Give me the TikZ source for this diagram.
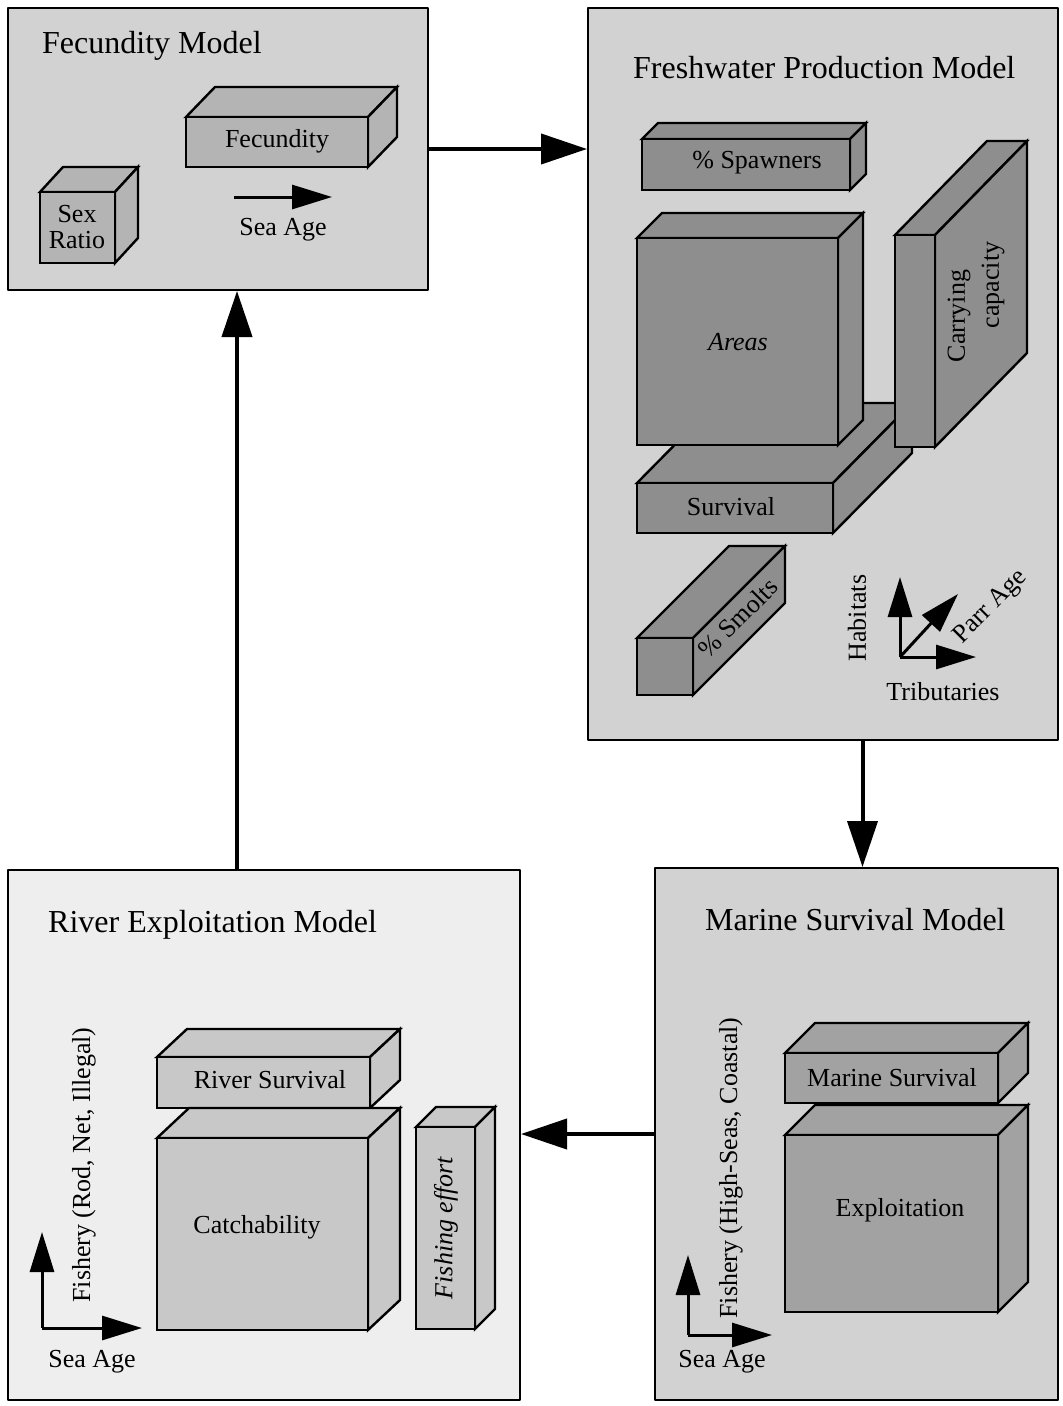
\documentclass[tikz,border=0pt]{standalone}
\usepackage{fontspec}
\setmainfont{Liberation Serif}
\usetikzlibrary{arrows.meta,calc,positioning}
\definecolor{fishPanel}{HTML}{D2D2D2}
\definecolor{fishPanelLight}{HTML}{EEEEEE}
\definecolor{fishFec}{HTML}{B4B4B4}
\definecolor{fishFresh}{HTML}{8E8E8E}
\definecolor{fishMarine}{HTML}{A2A2A2}
\definecolor{fishRiver}{HTML}{C8C8C8}

% cuboid: front face x1,y1,x2,y2 ; depth dx,dy ; fill
\newcommand{\fishbox}[7]{%
  \path[boxface,fill=#7] (#1,#2) -- (#1+#5,#2-#6) -- (#3+#5,#2-#6) -- (#3,#2) -- cycle;
  \path[boxface,fill=#7] (#3,#2) -- (#3+#5,#2-#6) -- (#3+#5,#4-#6) -- (#3,#4) -- cycle;
  \path[boxface,fill=#7] (#1,#2) rectangle (#3,#4);
}

\begin{document}
\begin{tikzpicture}[x=1pt,y=-1pt,>=Latex,line cap=round,line join=round]
\path[fill=white] (0,0) rectangle (1063,1406);
\tikzset{panel/.style={draw=black,line width=2pt,inner sep=0pt,minimum width=#1},
  boxface/.style={draw=black,line width=2.4pt,line join=miter},
  title/.style={font=\fontsize{32}{38}\selectfont,anchor=base west,inner sep=0pt},
  lbl/.style={font=\fontsize{26}{30}\selectfont,inner sep=0pt},
  flow/.style={draw=black,line width=4pt,line cap=butt,-{Triangle[length=46pt,width=30pt]}},
  axis/.style={draw=black,line width=3pt,line cap=butt,-{Triangle[length=40pt,width=24pt]}}}

% the four model panels
\node[panel=420,fill=fishPanel,minimum height=282] (fec) at (218,149) {};
\node[panel=470,fill=fishPanel,minimum height=732] (fw) at (823,374) {};
\node[panel=403,fill=fishPanel,minimum height=532] (mar) at (856.5,1134) {};
\node[panel=512,fill=fishPanelLight,minimum height=530] (riv) at (264,1135) {};

% connectors
\coordinate (marIn) at ([xshift=6pt]mar.north);
\coordinate (rivOut) at ([xshift=-27pt]riv.north);
\draw[flow] (fec.east) -- (fec.east -| fw.west);
\draw[flow] (marIn |- fw.south) -- (marIn);
\draw[flow] (mar.west) -- (mar.west -| riv.east);
\draw[flow] (rivOut) -- (rivOut |- fec.south);

% Fecundity model
\node[title] (fecT) at (42,53) {Fecundity Model};
\fishbox{186}{117}{368}{167}{29}{30}{fishFec}
\node[lbl] (fecB) at (277,141) {Fecundity};
\fishbox{40}{192}{115}{263}{23}{25}{fishFec}
\node[lbl,align=center,font=\fontsize{26}{26}\selectfont] (sexB) at (77,227) {Sex\\Ratio};
\coordinate (fecO) at (234,197);
\coordinate (fecX) at (332,197);
\draw[axis] (fecO) -- (fecX);
\node[lbl] (fecXl) at (283,230) {Sea Age};

% Freshwater production model
\node[title] (fwT) at (633,78) {Freshwater Production Model};
\fishbox{642}{139}{850}{190}{16}{16}{fishFresh}
\node[lbl] (spawn) at (757,163) {\% Spawners};
\fishbox{637}{483}{833}{533}{79}{80}{fishFresh}
\node[lbl] (surv) at (731,507) {Survival};
\fishbox{637}{238}{838}{445}{25}{25}{fishFresh}
\node[lbl,font=\fontsize{26}{30}\selectfont\itshape] (areas) at (738,342) {Areas};
\fishbox{895}{235}{935}{447}{92}{94}{fishFresh}
\node[lbl,rotate=90] (carry1) at (959,316) {Carrying};
\node[lbl,rotate=90] (carry2) at (993,285) {capacity};
\fishbox{637}{638}{693}{695}{92}{92}{fishFresh}
\node[lbl,rotate=45] (smolt) at (738,618) {\% Smolts};
\coordinate (fwO) at (900,657);
\coordinate (fwY) at (900,577);
\coordinate (fwX) at (976,657);
\coordinate (fwZ) at (958,594);
\draw[axis] (fwO) -- (fwY);
\draw[axis] (fwO) -- (fwX);
\draw[axis] (fwO) -- (fwZ);
\node[lbl,rotate=90] (fwYl) at (857,618) {Habitats};
\node[lbl] (fwXl) at (943,692) {Tributaries};
\node[lbl,rotate=45] (fwZl) at (991,607) {Parr Age};

% Marine survival model
\node[title] (marT) at (705,930) {Marine Survival Model};
\fishbox{785}{1053}{998}{1103}{30}{30}{fishMarine}
\node[lbl] (marS) at (892,1078) {Marine Survival};
\fishbox{785}{1135}{998}{1312}{30}{30}{fishMarine}
\node[lbl] (expl) at (900,1210) {Exploitation};
\node[lbl,rotate=90] (marY) at (731,1168) {Fishery (High-Seas, Coastal)};
\coordinate (marO) at (688,1335);
\coordinate (marUp) at (688,1255);
\coordinate (marX) at (772,1335);
\draw[axis] (marO) -- (marUp);
\draw[axis] (marO) -- (marX);
\node[lbl] (marXl) at (722,1362) {Sea Age};

% River exploitation model
\node[title] (rivT) at (48,932) {River Exploitation Model};
\fishbox{157}{1057}{370}{1108}{30}{28}{fishRiver}
\node[lbl] (rivS) at (270,1080) {River Survival};
\fishbox{157}{1138}{368}{1330}{32}{30}{fishRiver}
\node[lbl] (catch) at (257,1227) {Catchability};
\fishbox{416}{1127}{475}{1329}{20}{20}{fishRiver}
\node[lbl,rotate=90,font=\fontsize{26}{30}\selectfont\itshape] (effort) at (446,1228) {Fishing effort};
\node[lbl,rotate=90] (rivY) at (84,1165) {Fishery (Rod, Net, Illegal)};
\coordinate (rivO) at (42,1328);
\coordinate (rivUp) at (42,1232);
\coordinate (rivX) at (142,1328);
\draw[axis] (rivO) -- (rivUp);
\draw[axis] (rivO) -- (rivX);
\node[lbl] (rivXl) at (92,1362) {Sea Age};
\end{tikzpicture}
\end{document}
